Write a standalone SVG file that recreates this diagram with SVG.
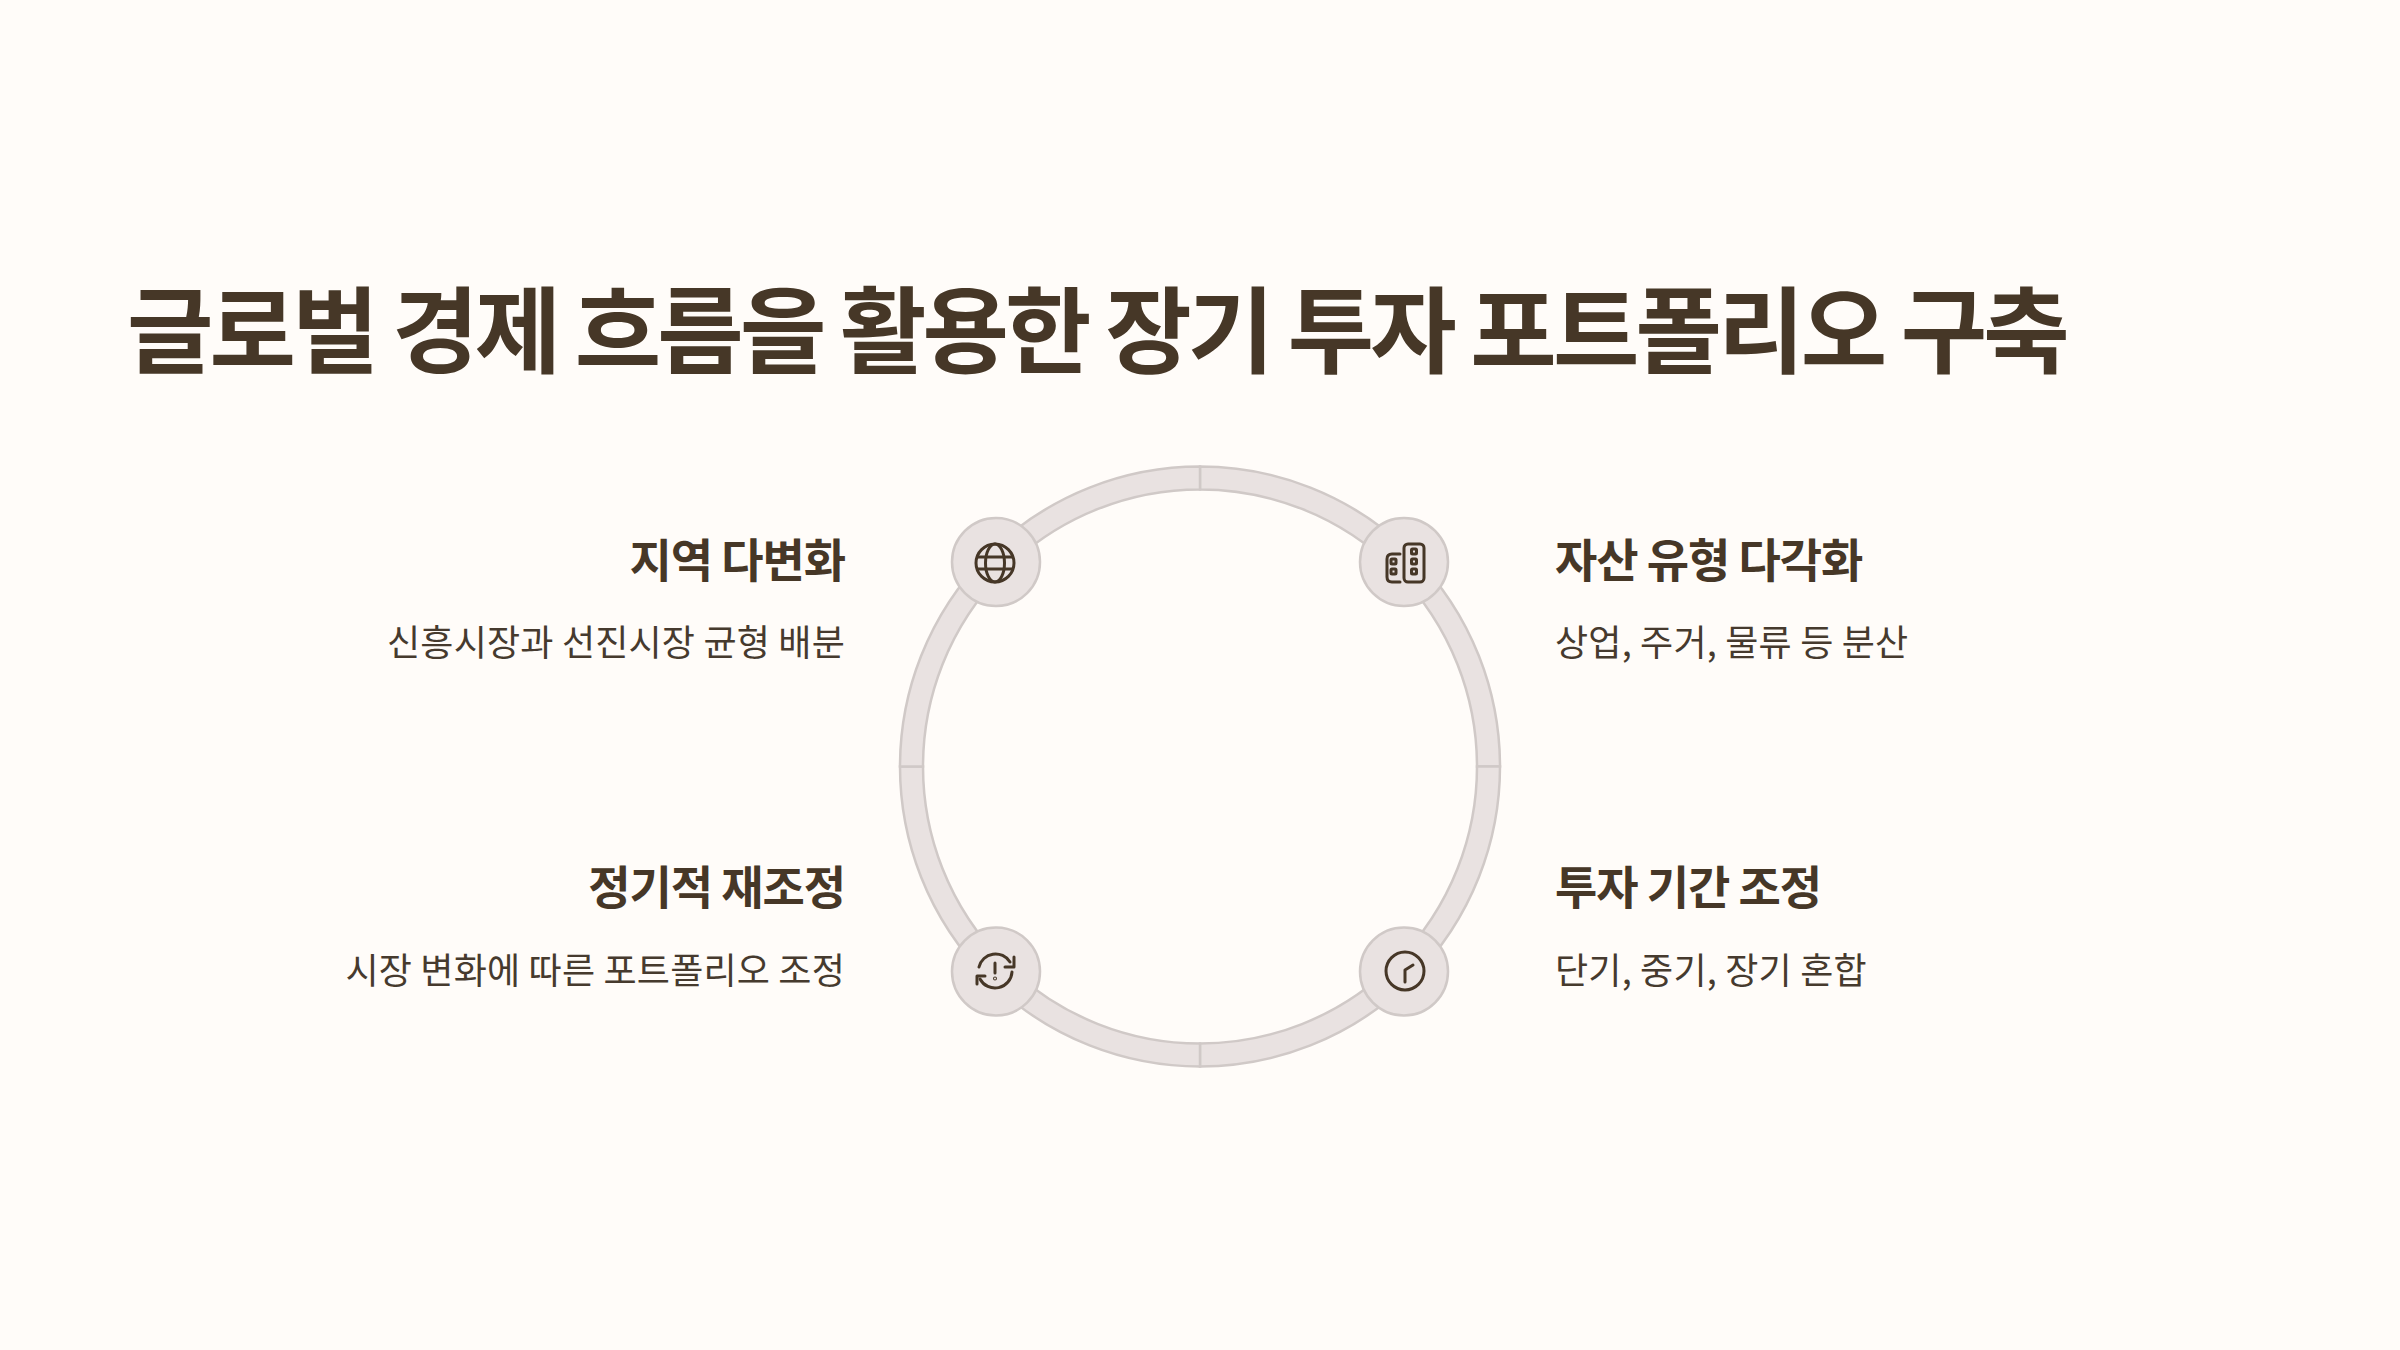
<svg xmlns="http://www.w3.org/2000/svg" width="2400" height="1350" viewBox="0 0 2400 1350">
<style>
text{font-family:"Noto Sans CJK KR","Noto Sans",sans-serif;fill:#463727}
.t{font-size:94px;font-weight:700;letter-spacing:-3.9px}
.h{font-size:46px;font-weight:700;letter-spacing:-1.1px}
.b{font-size:36px;font-weight:400;fill:#463a2e;letter-spacing:0.2px}
.r{text-anchor:end}
.seg{fill:#e9e2e1;stroke:#d0c9c7;stroke-width:2.500}
.nc{fill:#e9e2e1;stroke:#d0c9c7;stroke-width:2.500}
.i{fill:none;stroke:#463727;stroke-width:3;stroke-linecap:round;stroke-linejoin:round}
</style>
<rect width="2400" height="1350" fill="#fffcf9"/>
<text id="title" class="t" x="127" y="366">글로벌 경제 흐름을 활용한 장기 투자 포트폴리오 구축</text>
<g id="connectors">
<path class="seg" d="M1200 466.500A300 300 0 0 1 1500 766.500H1477A277 277 0 0 0 1200 489.500Z"/>
<path class="seg" d="M1500 766.500A300 300 0 0 1 1200 1066.500V1043.500A277 277 0 0 0 1477 766.500Z"/>
<path class="seg" d="M1200 1066.500A300 300 0 0 1 900 766.500H923A277 277 0 0 0 1200 1043.500Z"/>
<path class="seg" d="M900 766.500A300 300 0 0 1 1200 466.500V489.500A277 277 0 0 0 923 766.500Z"/>
</g>
<g id="node-region">
<circle class="nc" cx="996" cy="562" r="44"/>
<g class="i"><circle cx="995" cy="563" r="19"/><ellipse cx="995" cy="563" rx="9.500" ry="19"/><path d="M978 557H1012M978 569H1012"/></g>
<text class="h r" x="845" y="577">지역 다변화</text>
<text class="b r" x="845" y="656">신흥시장과 선진시장 균형 배분</text>
</g>
<g id="node-asset">
<circle class="nc" cx="1404" cy="562" r="44"/>
<g class="i"><rect x="1404" y="544" width="20" height="38" rx="4"/><path d="M1400 554H1392Q1387 554 1387 559V577Q1387 582 1392 582H1400"/>
<rect x="1411.500" y="549" width="5" height="5" rx="1"/><rect x="1411.500" y="559" width="5" height="5" rx="1"/><rect x="1411.500" y="569" width="5" height="5" rx="1"/>
<rect x="1391" y="559" width="5" height="5" rx="1"/><rect x="1391" y="569" width="5" height="5" rx="1"/></g>
<text class="h" x="1555" y="577">자산 유형 다각화</text>
<text class="b" x="1555" y="656">상업, 주거, 물류 등 분산</text>
</g>
<g id="node-rebalance">
<circle class="nc" cx="996" cy="971.500" r="44"/>
<g class="i"><path d="M979 967A17 17 0 0 1 1010 962M1012 972A17 17 0 0 1 980 979"/><path d="M1014 957V967H1005M977 984V976H985"/><path d="M995 963V973"/><circle cx="995" cy="978.500" r="0.500"/></g>
<text class="h r" x="845" y="904">정기적 재조정</text>
<text class="b r" x="845" y="984">시장 변화에 따른 포트폴리오 조정</text>
</g>
<g id="node-term">
<circle class="nc" cx="1404" cy="971.500" r="44"/>
<g class="i"><circle cx="1405" cy="971" r="19"/><path d="M1405 982V970L1413 965"/></g>
<text class="h" x="1555" y="904">투자 기간 조정</text>
<text class="b" x="1555" y="984">단기, 중기, 장기 혼합</text>
</g>
</svg>
